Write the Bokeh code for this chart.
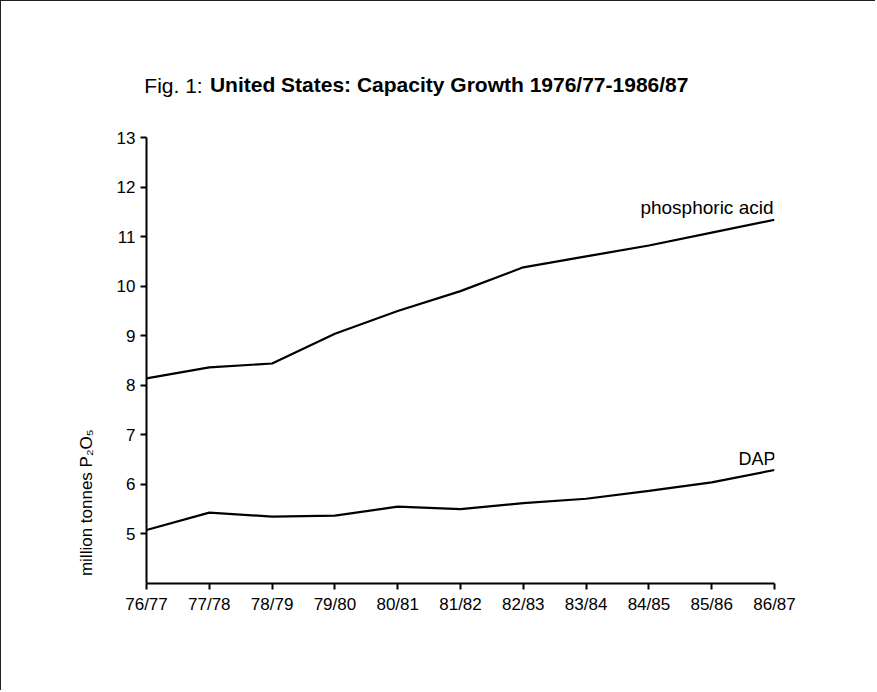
from bokeh.plotting import figure
from bokeh.models import Range1d, FixedTicker, Label, ColumnDataSource, LinearAxis
from bokeh.embed import file_html
from bokeh.resources import INLINE

# ---- data ----
seasons = ["76/77", "77/78", "78/79", "79/80", "80/81", "81/82",
           "82/83", "83/84", "84/85", "85/86", "86/87"]
phosphoric_acid = [8.14, 8.36, 8.44, 9.04, 9.50, 9.90, 10.38, 10.60, 10.82, 11.08, 11.34]
dap = [5.08, 5.43, 5.35, 5.37, 5.55, 5.50, 5.62, 5.71, 5.87, 6.04, 6.29]
y_ticks = [5, 6, 7, 8, 9, 10, 11, 12, 13]
title_prefix = "Fig. 1:"
title_main = "United States: Capacity Growth 1976/77-1986/87"
y_title = "million tonnes P\u2082O\u2085"

xs = list(range(len(seasons)))
src = ColumnDataSource(dict(x=xs, phos=phosphoric_acid, dap=dap))

FONT = "Liberation Sans"
W, H = 875, 690

p = figure(width=W, height=H, output_backend="svg", toolbar_location=None,
           x_range=Range1d(0, len(seasons) - 1), y_range=Range1d(4, 13),
           min_border_left=145, min_border_right=102,
           min_border_top=136, min_border_bottom=108)
p.styles = {"border-left": "1.5px solid #222", "border-top": "1.5px solid #222"}

p.background_fill_color = "white"
p.border_fill_color = "white"
p.outline_line_color = None
p.xgrid.visible = False
p.ygrid.visible = False

for ax in (p.xaxis[0], p.yaxis[0]):
    ax.axis_line_color = "black"
    ax.axis_line_width = 2
    ax.major_tick_line_color = "black"
    ax.major_tick_line_width = 2
    ax.major_tick_out = 6
    ax.major_tick_in = 0
    ax.minor_tick_line_color = None
    ax.major_label_text_font = FONT
    ax.major_label_text_font_size = "17px"
    ax.major_label_text_color = "black"

p.xaxis[0].ticker = FixedTicker(ticks=xs)
p.xaxis[0].major_label_overrides = {i: s for i, s in enumerate(seasons)}
p.xaxis[0].major_label_standoff = 5
p.yaxis[0].ticker = FixedTicker(ticks=y_ticks)
p.yaxis[0].major_label_standoff = 5


def text_axis(tick, text, size, style, standoff, orientation="horizontal"):
    return LinearAxis(ticker=FixedTicker(ticks=[tick]),
                      major_label_overrides={tick: text},
                      axis_line_color=None, major_tick_line_color=None,
                      minor_tick_line_color=None, major_tick_out=0, major_tick_in=0,
                      major_label_text_font=FONT, major_label_text_font_size=size,
                      major_label_text_font_style=style,
                      major_label_text_color="black",
                      major_label_standoff=standoff,
                      major_label_orientation=orientation)


# y-axis title carried as the only tick label of an invisible left axis
p.add_layout(text_axis(5.63, y_title, "17px", "normal", 17, "vertical"), "left")

# title: bold part on the inner invisible axis, prefix on the outer one
p.add_layout(text_axis(4.82, title_main, "21px", "bold", 42), "above")
p.add_layout(text_axis(0.43, title_prefix, "21px", "normal", -27), "above")

p.line("x", "phos", source=src, line_color="black", line_width=2.2)
p.line("x", "dap", source=src, line_color="black", line_width=2.2)

# series labels anchored at the last points
p.add_layout(Label(x=xs[-1], y=phosphoric_acid[-1], text="phosphoric acid",
                   text_align="right", text_baseline="alphabetic",
                   x_offset=-1, y_offset=12, text_font=FONT,
                   text_font_size="19px", text_color="black"))
p.add_layout(Label(x=xs[-1], y=dap[-1], text="DAP",
                   text_align="right", text_baseline="alphabetic",
                   x_offset=1, y_offset=11, text_font=FONT,
                   text_font_size="18px", text_color="black"))

open("out.html", "w").write(file_html(p, INLINE))
